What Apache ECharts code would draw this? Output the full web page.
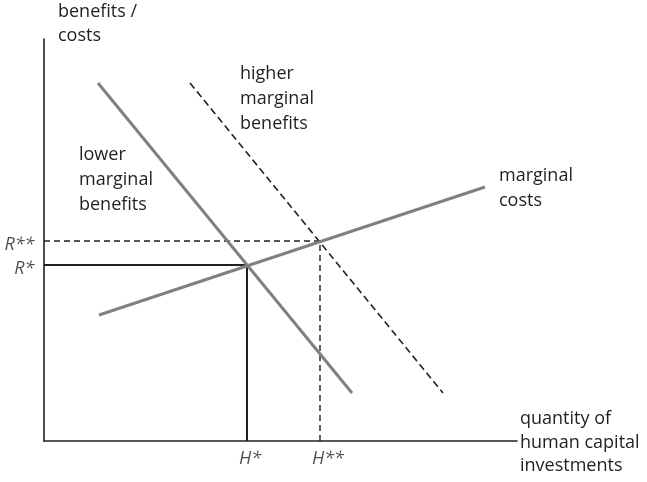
<!DOCTYPE html>
<html>
<head>
<meta charset="utf-8">
<script src="https://cdn.jsdelivr.net/npm/echarts@6/dist/echarts.min.js"></script>
<style>html,body{margin:0;padding:0;background:#fff}#c{width:647px;height:482px}</style>
</head>
<body>
<div id="c"></div>
<script>
// Data (chart units)
var lowerMB = [[54, 358], [308, 48]];
var higherMB = [[146, 358], [399, 48]];
var marginalCosts = [[55, 126], [441, 254]];
var Hstar = 203, Rstar = 176;
var Hss = 276, Rss = 200;
var xMax = 473, yMax = 402;
var yTitle = ['benefits /', 'costs'];
var xTitle = ['quantity of', 'human capital', 'investments'];
var higherLabel = ['higher', 'marginal', 'benefits'];
var lowerLabel = ['lower', 'marginal', 'benefits'];
var mcLabel = ['marginal', 'costs'];
var tickLabels = { R1: 'R*', R2: 'R**', H1: 'H*', H2: 'H**' };

var FONT = '"Open Sans", "DejaVu Sans", sans-serif';
var INK = '#231f20';
var GRAY = '#808080';
var FS = 18;

function block(lines, x, y0, lh) {
  return lines.map(function (t, i) {
    return {
      type: 'text', left: x, top: y0 + i * lh, silent: true,
      style: { text: t, fontFamily: FONT, fontSize: FS, fill: INK }
    };
  });
}

var chart = echarts.init(document.getElementById('c'), null, { renderer: 'canvas' });
var labelStyle = { fontFamily: FONT, fontSize: 18, fontStyle: 'italic', color: INK };
chart.setOption({
  animation: false,
  grid: { left: 44, top: 39, right: 130, bottom: 41 },
  xAxis: {
    type: 'value', min: 0, max: xMax,
    axisLine: { show: true, lineStyle: { color: INK, width: 1.6 } },
    axisTick: { show: false }, axisLabel: { show: false }, splitLine: { show: false }
  },
  yAxis: {
    type: 'value', min: 0, max: yMax,
    axisLine: { show: true, lineStyle: { color: INK, width: 1.6 } },
    axisTick: { show: false }, axisLabel: { show: false }, splitLine: { show: false }
  },
  series: [
    {
      type: 'line', data: [[0, Rss], [Hss, Rss], [Hss, 0]], symbol: 'none', clip: false,
      lineStyle: { color: INK, width: 1.4, type: [6, 4] }
    },
    {
      type: 'line', data: [[0, Rstar], [Hstar, Rstar], [Hstar, 0]], symbol: 'none', clip: false,
      lineStyle: { color: INK, width: 2 }
    },
    {
      type: 'line', data: higherMB, symbol: 'none', clip: false,
      lineStyle: { color: INK, width: 1.6, type: [7, 4] }
    },
    {
      type: 'line', data: lowerMB, symbol: 'none', clip: false,
      lineStyle: { color: GRAY, width: 3 }
    },
    {
      type: 'line', data: marginalCosts, symbol: 'none', clip: false,
      lineStyle: { color: GRAY, width: 3 }
    },
    {
      type: 'scatter', symbolSize: 1, itemStyle: { color: 'rgba(0,0,0,0)' }, clip: false,
      data: [
        { value: [0, Rss], label: { show: true, position: 'left', distance: 10, offset: [1, 4], formatter: tickLabels.R2 } },
        { value: [0, Rstar], label: { show: true, position: 'left', distance: 10, offset: [1, 4], formatter: tickLabels.R1 } },
        { value: [Hstar, 0], label: { show: true, position: 'bottom', align: 'left', distance: 8, offset: [-8, 0], formatter: tickLabels.H1 } },
        { value: [Hss, 0], label: { show: true, position: 'bottom', align: 'left', distance: 8, offset: [-8, 0], formatter: tickLabels.H2 } }
      ],
      label: labelStyle
    }
  ],
  graphic: [].concat(
    block(yTitle, 58, 3, 23.5),
    block(higherLabel, 240, 65, 25),
    block(lowerLabel, 79, 146, 25),
    block(mcLabel, 499, 167, 24.5),
    block(xTitle, 520, 410, 23.5)
  )
});
</script>
</body>
</html>
